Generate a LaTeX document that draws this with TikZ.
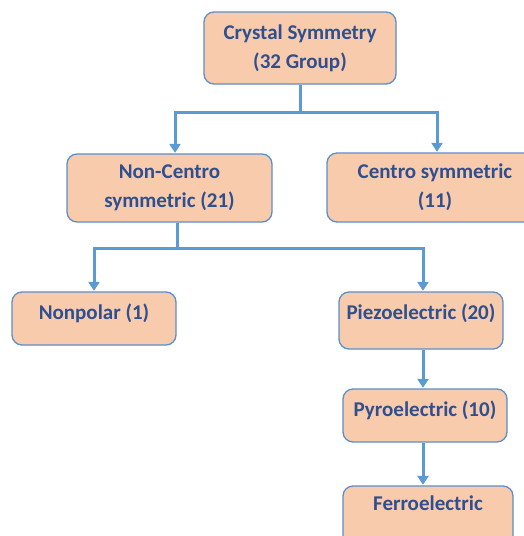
\documentclass[tikz,border=0pt]{standalone}
\usepackage{fontspec}
\setmainfont{Carlito}
\usetikzlibrary{arrows.meta}
\definecolor{boxfill}{HTML}{F8CBAD}
\definecolor{boxline}{HTML}{5B8FC9}
\definecolor{txt}{HTML}{2F4F8F}
\definecolor{conncol}{HTML}{5B9BD5}
\tikzset{
  box/.style={draw=boxline, line width=1.3pt, fill=boxfill, rounded corners=10pt,
    inner sep=0pt, align=center, text=txt, font=\fontsize{21}{29}\selectfont\bfseries},
  conn/.style={draw=conncol, line width=3pt},
  arr/.style={conn, -{Triangle[width=11pt,length=9pt]}, shorten >=0.5pt},
}
\begin{document}
\begin{tikzpicture}[x=1pt,y=-1pt]
\useasboundingbox (0,0) rectangle (524,536);
\clip (0,0) rectangle (524,536);
\node[box, minimum width=192pt, minimum height=72pt] (top) at (300,48) {Crystal Symmetry\\(32 Group)};
\node[box, minimum width=205pt, minimum height=68pt] (nc) at (169.5,188) {Non-Centro\\symmetric (21)};
\node[box, minimum width=216pt, minimum height=69pt] (cs) at (435,187.5) {Centro symmetric\\(11)};
\node[box, minimum width=164pt, text height=27pt, text depth=26pt] (np) at (94,318.5) {Nonpolar (1)};
\node[box, minimum width=164pt, text height=27pt, text depth=30pt] (pz) at (421,320.5) {Piezoelectric (20)};
\node[box, minimum width=164pt, text height=27pt, text depth=26pt] (py) at (425,415.5) {Pyroelectric (10)};
\node[box, minimum width=170pt, text height=24pt, text depth=36pt] (fe) at (428,516) {Ferroelectric};
\coordinate (j1) at (300,112);
\coordinate (j2) at (177,248);
\draw[conn] (top.south) -- (j1);
\draw[arr] (j1) -| ([xshift=5.5pt]nc.north);
\draw[arr] (j1) -| ([xshift=2pt]cs.north);
\draw[conn] ([xshift=7.5pt]nc.south) -- (j2);
\draw[arr] (j2) -| (np.north);
\draw[arr] (j2) -| ([xshift=2pt]pz.north);
\draw[arr] ([xshift=2pt]pz.south) -- ([xshift=-2pt]py.north);
\draw[arr] ([xshift=-2pt]py.south) -- ([xshift=-5pt]fe.north);
\end{tikzpicture}
\end{document}
